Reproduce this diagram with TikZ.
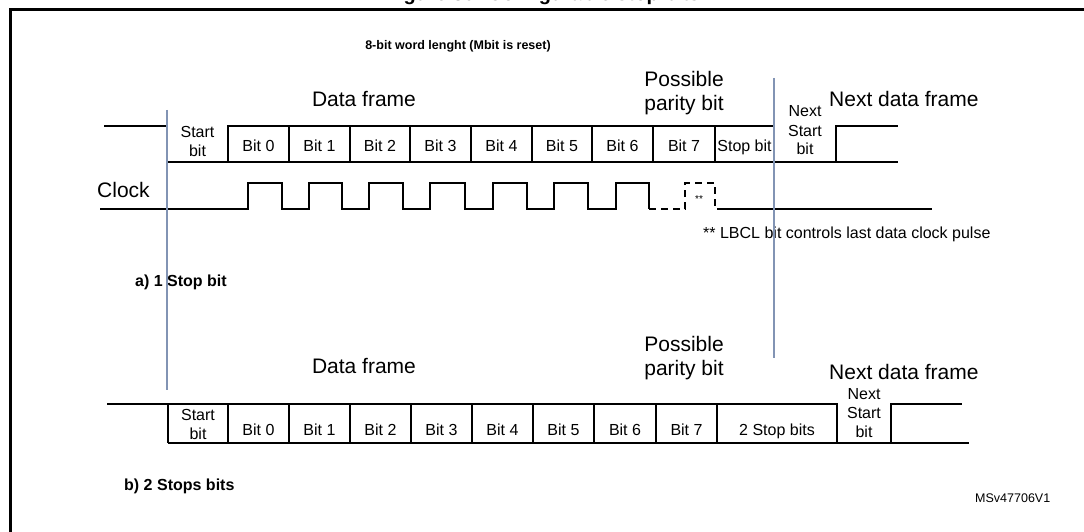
\documentclass[tikz,border=0pt]{standalone}
\usepackage{fontspec}
\setmainfont{Liberation Sans}
\definecolor{markerblue}{RGB}{130,148,180}
\begin{document}
\begin{tikzpicture}[x=1pt,y=-1pt,
  sig/.style={line width=1.4pt, black},
  divline/.style={line width=1.3pt, black},
  dashsig/.style={line width=1.4pt, black, dash pattern=on 7pt off 5pt},
  marker/.style={line width=2.6pt, color=markerblue},
  frameline/.style={line width=3pt, black},
  lbl/.style={inner sep=0pt, anchor=base, font=\fontsize{16}{19}\selectfont},
  biglbl/.style={inner sep=0pt, anchor=base, font=\fontsize{21}{24}\selectfont},
  boldlbl/.style={inner sep=0pt, anchor=base west, font=\bfseries\fontsize{16}{19}\selectfont}
]
\clip (0,0) rectangle (1084,532);
\fill[white] (0,0) rectangle (1084,532);
% frame (extends past the picture edges)
\draw[frameline] (10,545) -- (10,10) -- (1100,10);
% title, cut off by the top edge as in the reference
\node[inner sep=0pt, anchor=base, font=\bfseries\fontsize{20}{24}\selectfont] (title) at (543,1) {Figure 30. Configurable stop bits};

\node[inner sep=0pt, anchor=base, font=\bfseries\fontsize{12.5}{15}\selectfont] (hdr) at (458,50) {8-bit word lenght (Mbit is reset)};

% ---------- a) 1 stop bit ----------
\node[biglbl] (dfa) at (364,107) {Data frame};
\node[biglbl] (ppa1) at (684,87) {Possible};
\node[biglbl] (ppa2) at (684,111) {parity bit};
\node[biglbl, anchor=base west] (ndfa) at (829,107) {Next data frame};

% signal
\draw[sig] (104,126) -- (167,126) -- (167,162) -- (898,162);
\draw[sig] (228,162) -- (228,126) -- (774,126) -- (774,162);
\draw[sig] (836,162) -- (836,126) -- (898,126);
\foreach \xx in {289,350,410,471,532,592,653,715}
  \draw[divline] (\xx,126) -- (\xx,162);

\node[lbl] (sta1) at (197.5,138) {Start};
\node[lbl] (sta2) at (197.5,157) {bit};
\foreach \xx/\tt [count=\i] in {258.5/Bit 0,319.5/Bit 1,380/Bit 2,440.5/Bit 3,501.5/Bit 4,562/Bit 5,622.5/Bit 6,684/Bit 7,744.5/Stop bit}
  \node[lbl] (ba\i) at (\xx,151) {\tt};
\node[lbl] (nsa1) at (805,117) {Next};
\node[lbl] (nsa2) at (805,136) {Start};
\node[lbl] (nsa3) at (805,154) {bit};

% clock
\node[biglbl, anchor=base west] (clk) at (97,197) {Clock};
\draw[sig] (100,209) -- (248,209) -- (248,183) -- (282,183) -- (282,209)
  -- (309,209) -- (309,183) -- (342,183) -- (342,209)
  -- (369,209) -- (369,183) -- (403,183) -- (403,209)
  -- (430,209) -- (430,183) -- (465,183) -- (465,209)
  -- (493,209) -- (493,183) -- (527,183) -- (527,209)
  -- (554,209) -- (554,183) -- (588,183) -- (588,209)
  -- (616,209) -- (616,183) -- (649,183) -- (649,209);
\draw[dashsig] (649,209) -- (685,209) -- (685,183) -- (715,183) -- (715,209);
\draw[sig] (717,209) -- (932,209);
\node[inner sep=0pt, font=\fontsize{10}{12}\selectfont] (star) at (699,199) {**};
\node[lbl, anchor=base west] (note) at (703,238) {** LBCL bit controls last data clock pulse};

\node[boldlbl] (la) at (135,286) {a) 1 Stop bit};

% ---------- b) 2 stop bits ----------
\node[biglbl] (dfb) at (364,373) {Data frame};
\node[biglbl] (ppb1) at (684,351) {Possible};
\node[biglbl] (ppb2) at (684,375) {parity bit};
\node[biglbl, anchor=base west] (ndfb) at (829,379) {Next data frame};

\draw[sig] (107,404) -- (837,404) -- (837,443);
\draw[sig] (168,443) -- (969,443);
\draw[sig] (891,443) -- (891,404) -- (962,404);
\foreach \xx in {168,228,289,350,411,472,533,594,656,717}
  \draw[divline] (\xx,404) -- (\xx,443);

\node[lbl] (stb1) at (198,420) {Start};
\node[lbl] (stb2) at (198,439) {bit};
\foreach \xx/\tt [count=\i] in {258.5/Bit 0,319.5/Bit 1,380.5/Bit 2,441.5/Bit 3,502.5/Bit 4,563.5/Bit 5,625/Bit 6,686.5/Bit 7,777/2 Stop bits}
  \node[lbl] (bb\i) at (\xx,435) {\tt};
\node[lbl] (nsb1) at (864,399) {Next};
\node[lbl] (nsb2) at (864,418) {Start};
\node[lbl] (nsb3) at (864,437) {bit};

\node[boldlbl] (lb) at (124,490) {b) 2 Stops bits};
\node[inner sep=0pt, anchor=base west, font=\fontsize{12.5}{15}\selectfont] (ref) at (975,502) {MSv47706V1};

% marker lines
\draw[marker] (167,110) -- (167,390);
\draw[marker] (774,78) -- (774,358);
\end{tikzpicture}
\end{document}
